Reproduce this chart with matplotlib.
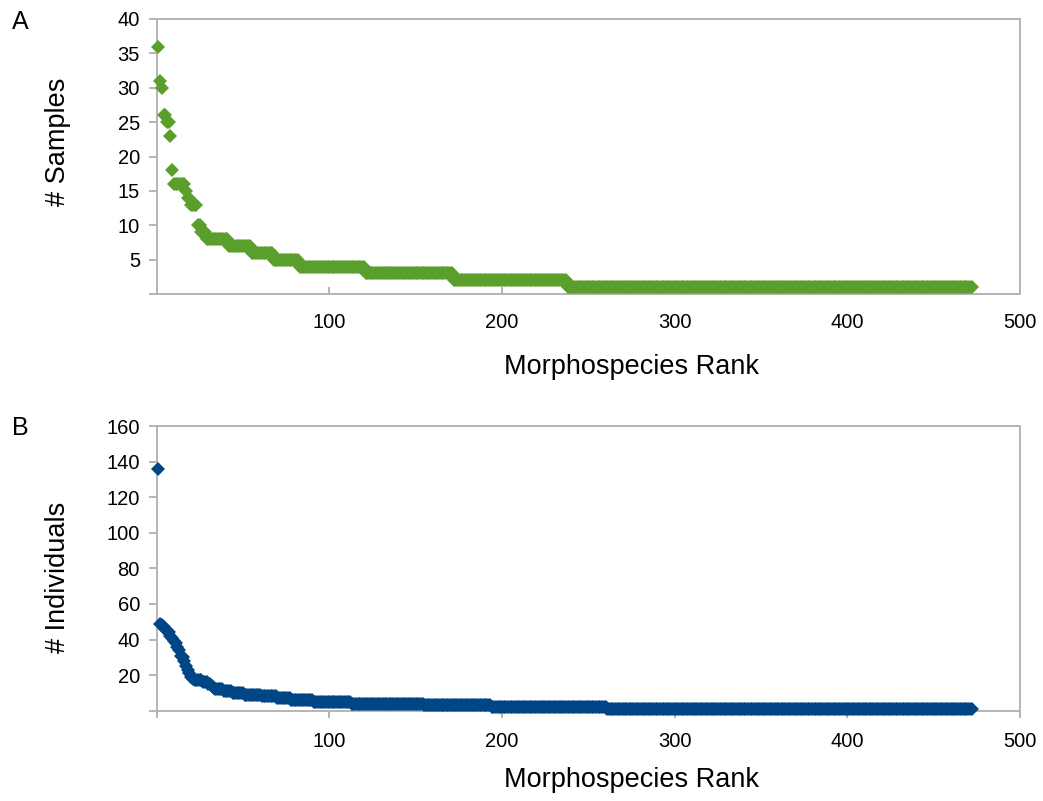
import numpy as np
import matplotlib
matplotlib.use("Agg")
import matplotlib.pyplot as plt

plt.rcParams['font.family'] = ['Liberation Sans', 'DejaVu Sans']

# Panel A: number of samples per morphospecies (rank ordered)
samples_head = [36, 31, 30, 26, 26, 25, 25, 23, 18, 16, 16, 16, 16, 16, 16, 16,
                15, 14, 14, 13, 13, 13, 13, 10, 10, 9, 9, 9]
samples_levels = [8, 7, 6, 5, 4, 3, 2, 1]
samples_counts = [13, 13, 13, 15, 38, 51, 66, 235]

# Panel B: number of individuals per morphospecies (rank ordered)
indiv_head = [136, 49, 48, 47, 46, 45, 44, 42, 41, 39, 38, 36, 34, 31, 30, 28,
              25, 23, 21, 19, 18, 17, 17, 17, 17, 17, 16, 16, 16, 15, 15, 14, 13]
indiv_levels = [12, 11, 10, 9, 8, 7, 6, 5, 4, 3, 2, 1]
indiv_counts = [5, 5, 7, 10, 9, 8, 13, 22, 42, 39, 67, 212]

samples = np.concatenate([samples_head, np.repeat(samples_levels, samples_counts)])
indiv = np.concatenate([indiv_head, np.repeat(indiv_levels, indiv_counts)])
rank_a = np.arange(1, len(samples) + 1)
rank_b = np.arange(1, len(indiv) + 1)

green = '#5a9e2b'
blue = '#004586'
grey = '#b4b4b4'

W, H = 1043, 801
fig = plt.figure(figsize=(W / 100, H / 100), dpi=100)


def box(l, t, r, b):
    return [l / W, 1 - b / H, (r - l) / W, (b - t) / H]


def style(ax, ymax, ystep, xdir):
    ax.set_xlim(0, 500)
    ax.set_ylim(0, ymax)
    xt = np.arange(0, 501, 100)
    ax.set_xticks(xt)
    ax.set_xticklabels([''] + [str(v) for v in xt[1:]])
    yt = np.arange(0, ymax + 1, ystep)
    ax.set_yticks(yt)
    ax.set_yticklabels([''] + [str(v) for v in yt[1:]])
    for s in ax.spines.values():
        s.set_color(grey)
        s.set_linewidth(1.4)
    ax.tick_params(axis='y', direction='out', length=6, width=1.4, color=grey,
                   labelsize=14.5, pad=6)
    ax.tick_params(axis='x', direction=xdir, length=5, width=1.4, color=grey,
                   labelsize=14.5, pad=14 if xdir == 'in' else 10)


ax1 = fig.add_axes(box(156.6, 19, 1020, 294))
ax1.plot(rank_a, samples, linestyle='none', marker='D', ms=7, mew=0,
         color=green, clip_on=False, zorder=3)
style(ax1, 40, 5, 'in')

ax2 = fig.add_axes(box(156.6, 426, 1020, 710.7))
ax2.plot(rank_b, indiv, linestyle='none', marker='D', ms=7, mew=0,
         color=blue, clip_on=False, zorder=3)
style(ax2, 160, 20, 'out')

fig.text(12 / W, 1 - 29 / H, 'A', fontsize=18, va='baseline', ha='left')
fig.text(12 / W, 1 - 435 / H, 'B', fontsize=18, va='baseline', ha='left')
fig.text(58 / W, 1 - 142 / H, '# Samples', fontsize=19.5, rotation=90,
         va='center', ha='center')
fig.text(58 / W, 1 - 577 / H, '# Individuals', fontsize=19.5, rotation=90,
         va='center', ha='center')
fig.text(631 / W, 1 - 367 / H, 'Morphospecies Rank', fontsize=19.5,
         va='center', ha='center')
fig.text(631 / W, 1 - 780 / H, 'Morphospecies Rank', fontsize=19.5,
         va='center', ha='center')

fig.savefig('out.png', dpi=100)
